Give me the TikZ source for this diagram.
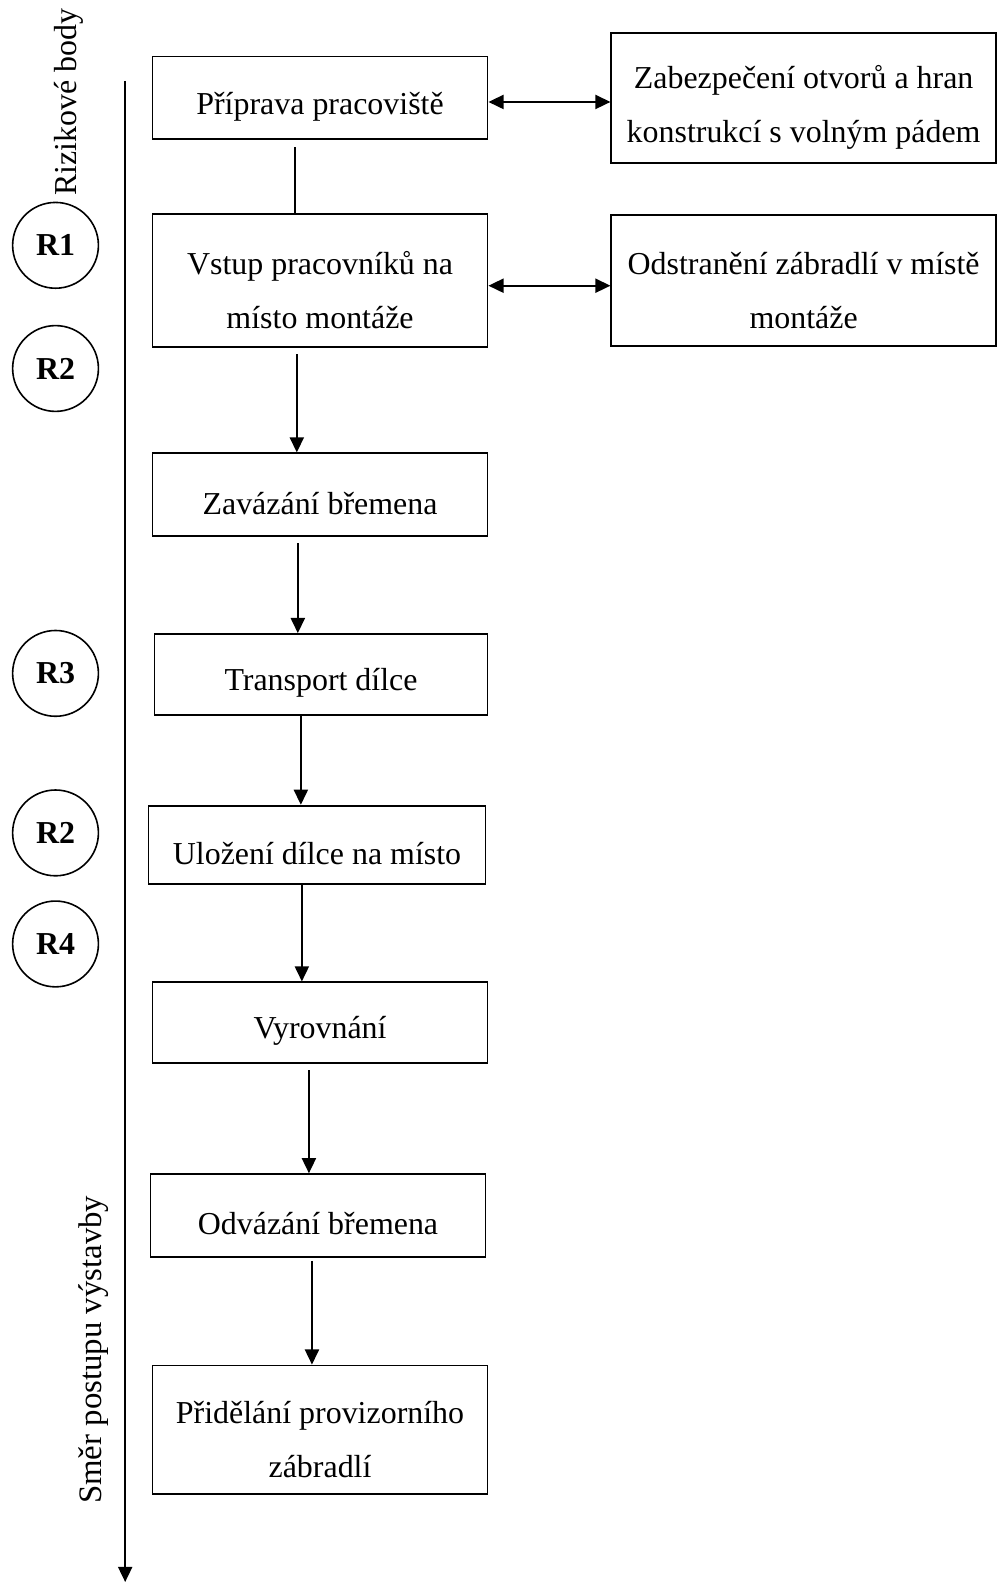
\documentclass[tikz,border=0pt]{standalone}
\usepackage{fontspec}
\setmainfont{Liberation Serif}
\usetikzlibrary{arrows.meta}

\tikzset{
  krok/.style={draw, rectangle, line width=1pt, minimum width=6.64cm, align=center, inner sep=0pt,
    font=\fontsize{18}{30.6}\selectfont, execute at begin node={\rule{0pt}{22pt}}},
  dvakrok/.style={krok, text height=54pt},
  riziko/.style={draw, circle, line width=0.9pt, minimum size=1.7cm, inner sep=0pt,
    font=\fontsize{18}{20}\selectfont\bfseries},
  sipka/.style={line width=1pt, -{Triangle[width=0.28cm,length=0.3cm]}},
  obousipka/.style={line width=1pt, {Triangle[width=0.28cm,length=0.3cm]}-{Triangle[width=0.28cm,length=0.3cm]}},
}

\begin{document}
\begin{tikzpicture}[x=0.02cm, y=-0.02cm]
  \useasboundingbox (0,0) rectangle (987,1568);

  % osa postupu
  \coordinate (osa0) at (124,80);
  \coordinate (osa1) at (124,1567);
  \draw[line width=1pt, -{Triangle[width=0.28cm,length=0.3cm]}] (osa0) -- (osa1);
  \node[rotate=90, font=\fontsize{18}{20}\selectfont] (rb) at (68,101) {Rizikové body};
  \node[rotate=90, font=\fontsize{18.5}{20}\selectfont] (smer) at (93,1337) {Směr postupu výstavby};

  % kroky montaze
  \node[krok, minimum height=1.64cm] (p1) at (317,97) {Příprava pracoviště};
  \node[dvakrok, minimum height=2.64cm] (p2) at (317,278) {Vstup pracovníků na\\místo montáže};
  \node[krok, minimum height=1.64cm] (p3) at (317,490) {Zavázání břemena};
  \node[krok, minimum height=1.6cm, minimum width=6.6cm] (p4) at (318,668) {Transport dílce};
  \node[krok, minimum height=1.56cm, minimum width=6.68cm] (p5) at (314,837) {Uložení dílce na místo};
  \node[krok, minimum height=1.6cm] (p6) at (317,1013) {Vyrovnání};
  \node[krok, minimum height=1.64cm] (p7) at (315,1204) {Odvázání břemena};
  \node[dvakrok, minimum height=2.54cm] (p8) at (317,1416) {Přidělání provizorního\\zábradlí};

  % opatreni vpravo
  \node[dvakrok, minimum height=2.58cm, minimum width=7.62cm] (z1) at (796,97) {Zabezpečení otvorů a hran\\konstrukcí s volným pádem};
  \node[dvakrok, minimum height=2.6cm, minimum width=7.62cm] (z2) at (796,278) {Odstranění zábradlí v místě\\montáže};

  % rizikove body
  \node[riziko] (r1) at (55,243) {R1};
  \node[riziko] (r2a) at (55,365) {R2};
  \node[riziko] (r3) at (55,667) {R3};
  \node[riziko] (r2b) at (55,825) {R2};
  \node[riziko] (r4) at (55,935) {R4};

  % spojnice
  \draw[line width=1pt] ([xshift=-0.5cm,yshift=-0.14cm]p1.south) -- ([xshift=-0.5cm]p2.north);
  \draw[sipka] ([xshift=-0.46cm,yshift=-0.12cm]p2.south) -- ([xshift=-0.46cm]p3.north);
  \draw[sipka] ([xshift=-0.44cm,yshift=-0.12cm]p3.south) -- ([xshift=-0.44cm]p4.north -| p3.south);
  \draw[sipka] ([xshift=-0.4cm]p4.south) -- ([xshift=-0.4cm]p5.north -| p4.south);
  \draw[sipka] ([xshift=-0.3cm]p5.south) -- ([xshift=-0.3cm]p6.north -| p5.south);
  \draw[sipka] ([xshift=-0.22cm,yshift=-0.12cm]p6.south) -- ([xshift=-0.22cm]p7.north -| p6.south);
  \draw[sipka] ([xshift=-0.12cm,yshift=-0.06cm]p7.south) -- ([xshift=-0.12cm]p8.north -| p7.south);
  \draw[obousipka] ([yshift=-0.08cm]p1.east) -- ([yshift=-0.08cm]p1.east -| z1.west);
  \draw[obousipka] ([yshift=-0.1cm]p2.east) -- ([yshift=-0.1cm]p2.east -| z2.west);
\end{tikzpicture}
\end{document}
